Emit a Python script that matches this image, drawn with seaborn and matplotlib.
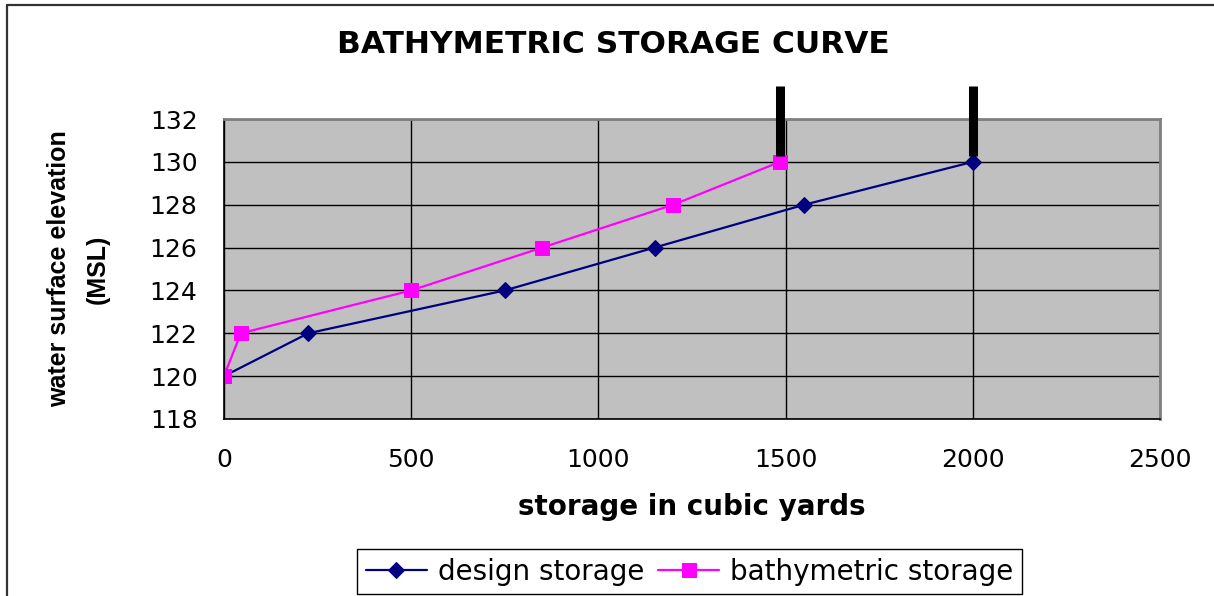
import matplotlib
matplotlib.use("Agg")
import matplotlib.pyplot as plt
from matplotlib.lines import Line2D
import seaborn as sns
import pandas as pd

# ---- data ----
elevation = [120, 122, 124, 126, 128, 130]
design_storage = [0, 225, 750, 1150, 1550, 2000]
bathymetric_storage = [0, 45, 500, 850, 1200, 1485]
marker_bars_x = [1485, 2000]
x_ticks = [0, 500, 1000, 1500, 2000, 2500]
y_ticks = [118, 120, 122, 124, 126, 128, 130, 132]

sns.set_style("white")
plt.rcParams['font.family'] = ['DejaVu Sans']
for k in ["text.color", "axes.labelcolor", "xtick.color", "ytick.color"]:
    plt.rcParams[k] = "black"

fig = plt.figure(figsize=(12.14, 5.96), dpi=100)
ax = fig.add_axes([0.1845, 0.297, 0.771, 0.5033])
ax.set_facecolor("#C0C0C0")

df_d = pd.DataFrame({"x": design_storage, "y": elevation})
df_b = pd.DataFrame({"x": bathymetric_storage, "y": elevation})

sns.lineplot(data=df_d, x="x", y="y", ax=ax, color="#000080", marker="D",
             markersize=8, markeredgecolor="#000080", linewidth=1.6,
             label="design storage", sort=False)
sns.lineplot(data=df_b, x="x", y="y", ax=ax, color="#FF00FF", marker="s",
             markersize=10, markeredgecolor="#FF00FF", linewidth=1.6,
             label="bathymetric storage", sort=False)

# thick black bars
ax.vlines(marker_bars_x, 130.27, 133.55, colors="black", linewidth=6.5,
          clip_on=False, zorder=5)

ax.set_xlim(0, 2500)
ax.set_ylim(118, 132)
ax.set_xticks(x_ticks)
ax.set_yticks(y_ticks)
ax.grid(True, color="black", linewidth=1.0)
ax.set_axisbelow(True)
ax.tick_params(axis="both", labelsize=18, direction="out", length=7,
               width=1, color="black")
ax.tick_params(axis="y", pad=12)
ax.tick_params(axis="x", pad=14)

for s in ["left", "bottom"]:
    ax.spines[s].set_color("black")
    ax.spines[s].set_linewidth(1.2)
for s in ["top", "right"]:
    ax.spines[s].set_color("#808080")
    ax.spines[s].set_linewidth(2)

ax.set_xlabel("storage in cubic yards", fontsize=20, fontweight="bold", labelpad=15)
ax.set_ylabel("water surface elevation\n(MSL)", fontsize=18, fontweight="bold",
              labelpad=29, linespacing=1.75, family=["Liberation Sans"])

fig.text(0.505, 0.925, "BATHYMETRIC STORAGE CURVE", ha="center", va="center",
         fontsize=22.5, fontweight="bold")

ax.legend(loc="center", bbox_to_anchor=(0.568, 0.041),
          bbox_transform=fig.transFigure, ncol=2, fontsize=20,
          frameon=True, fancybox=False, edgecolor="black", framealpha=1,
          handlelength=2.2, columnspacing=0.5, handletextpad=0.4,
          borderpad=0.3, borderaxespad=0)
leg = ax.get_legend()
leg.get_frame().set_linewidth(1.0)

# outer chart frame (top and left edges visible)
fig.add_artist(Line2D([0.006, 0.006], [0, 0.992], color="#333333", linewidth=1.6))
fig.add_artist(Line2D([0.006, 1.0], [0.992, 0.992], color="#333333", linewidth=1.6))

fig.savefig("out.png", dpi=100)
